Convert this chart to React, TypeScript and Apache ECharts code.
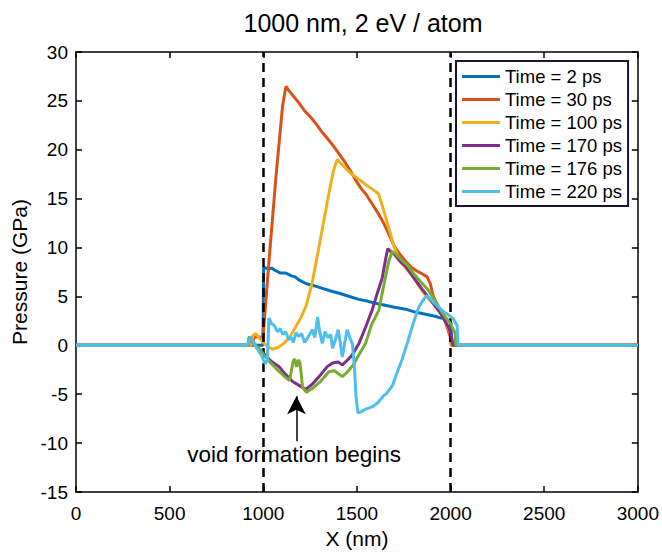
import React, { useEffect, useRef } from "react";
import * as echarts from "echarts";

const FONT = "'Liberation Sans', Arial, Helvetica, sans-serif";

const seriesNames = [
  "Time = 2 ps",
  "Time = 30 ps",
  "Time = 100 ps",
  "Time = 170 ps",
  "Time = 176 ps",
  "Time = 220 ps",
];
const seriesColors = ["#0072BD", "#D95319", "#EDB120", "#7E2F8E", "#77AC30", "#4DBEEE"];

const t2ps: [number, number][] = [
  [0, 0], [998, 0], [1002, 8.0], [1030, 7.8], [1045, 7.9], [1060, 7.7], [1090, 7.4], [1120, 7.4],
  [1150, 7.1], [1170, 7.0], [1190, 6.7], [1230, 6.3], [1270, 6.1], [1320, 5.8], [1370, 5.5],
  [1410, 5.3], [1460, 5.0], [1510, 4.7], [1560, 4.5], [1600, 4.3], [1650, 4.1],
  [1700, 3.9], [1760, 3.7], [1810, 3.4], [1860, 3.2], [1910, 3.0], [1950, 2.8],
  [1990, 2.5], [2002, 2.3], [2006, 0], [3000, 0],
];

const t30ps: [number, number][] = [
  [0, 0], [940, 0], [950, 0.8], [975, 0.9], [995, 0.6], [1000, 1.2], [1032, 9.0],
  [1067, 17.1], [1103, 24.5], [1121, 26.5], [1135, 26.1], [1160, 25.5], [1190, 24.8],
  [1220, 24.0], [1250, 23.4], [1280, 22.7], [1310, 21.9], [1340, 21.2], [1370, 20.5],
  [1400, 19.7], [1430, 18.9], [1460, 18.0], [1490, 17.0], [1520, 16.1], [1550, 15.4],
  [1580, 14.5], [1610, 13.6], [1640, 12.6], [1670, 11.4], [1700, 10.1], [1730, 9.3],
  [1760, 8.6], [1790, 8.0], [1820, 7.6], [1850, 7.3], [1875, 7.0], [1892, 6.3],
  [1905, 5.2], [1920, 4.5], [1945, 3.4], [1972, 2.4], [1998, 0.9], [2003, 0], [3000, 0],
];

const t100ps: [number, number][] = [
  [0, 0], [935, 0], [945, 1.0], [960, 1.2], [980, 0.7], [1000, 0.3], [1020, -0.1],
  [1050, -0.4], [1080, -0.2], [1110, 0.2], [1140, 0.8], [1170, 1.8], [1200, 2.8],
  [1230, 4.1], [1260, 6.3], [1290, 9.3], [1320, 12.4], [1350, 15.5], [1375, 17.9],
  [1395, 19.0], [1420, 18.5], [1450, 17.9], [1480, 17.4], [1510, 17.0], [1550, 16.4],
  [1580, 16.0], [1615, 15.5], [1640, 14.0], [1670, 12.0], [1700, 10.0], [1730, 8.6],
  [1760, 7.9], [1800, 7.0], [1850, 5.5], [1900, 4.4], [1940, 3.5], [1970, 2.5],
  [2000, 1.2], [2008, 0], [3000, 0],
];

const t170ps: [number, number][] = [
  [0, 0], [920, 0], [926, 0.9], [950, 0.2], [975, -0.3], [1000, -0.8], [1040, -1.6],
  [1085, -2.2], [1120, -3.0], [1156, -3.7], [1200, -4.2], [1227, -4.5], [1260, -4.0],
  [1298, -3.2], [1340, -2.2], [1369, -1.8], [1400, -1.7], [1422, -2.0], [1450, -1.5],
  [1475, -1.0], [1511, 0.2], [1545, 1.8], [1581, 3.6], [1610, 5.4], [1635, 6.9],
  [1655, 9.0], [1665, 9.9], [1680, 9.6], [1700, 9.3], [1730, 8.6], [1760, 8.1],
  [1800, 7.0], [1850, 5.7], [1900, 4.5], [1950, 3.2], [1990, 1.8], [2005, 1.0],
  [2012, 0], [3000, 0],
];

const t176ps: [number, number][] = [
  [0, 0], [920, 0], [926, 0.9], [950, 0.2], [975, -0.3], [1000, -0.9], [1040, -1.8],
  [1080, -2.6], [1120, -3.3], [1140, -3.6], [1160, -1.6], [1168, -1.4], [1178, -2.2],
  [1188, -1.5], [1196, -1.8], [1210, -4.3], [1230, -4.8], [1270, -4.3], [1310, -3.6],
  [1350, -2.7], [1380, -2.6], [1422, -3.2], [1450, -2.7], [1480, -2.0], [1510, -1.0],
  [1546, 0.2], [1580, 2.2], [1617, 3.6], [1645, 6.3], [1670, 8.6], [1688, 9.6],
  [1710, 9.3], [1740, 8.7], [1770, 8.2], [1800, 7.4], [1840, 6.5], [1883, 5.6],
  [1920, 4.5], [1950, 3.5], [1972, 2.9], [2000, 2.2], [2025, 1.2], [2027, 0], [3000, 0],
];

const t220ps: [number, number][] = [
  [0, 0], [915, 0], [925, 0.8], [945, 0.4], [965, -0.3], [990, -1.0], [1010, -1.9],
  [1022, -1.5], [1030, 2.8], [1045, 2.2], [1060, 2.0], [1075, 1.4], [1090, 1.7],
  [1105, 1.1], [1120, 1.4], [1135, 0.6], [1150, 0.8], [1160, 0.3], [1175, 1.3],
  [1190, 0.9], [1205, 1.2], [1220, 0.3], [1235, 0.7], [1250, 1.2], [1262, 1.6],
  [1275, 0.8], [1290, 2.9], [1300, 1.5], [1315, 0.2], [1330, 1.4], [1345, 0.8],
  [1360, 1.1], [1370, -0.3], [1385, 0.6], [1400, 1.6], [1410, 0.4], [1422, -1.2],
  [1435, 0.3], [1448, 1.6], [1460, 0.9], [1475, 0.2], [1485, -1.8], [1495, -5.2],
  [1505, -6.9], [1520, -6.8], [1550, -6.5], [1580, -6.3], [1610, -5.9], [1640, -5.2],
  [1660, -4.9], [1690, -4.1], [1710, -3.0], [1740, -1.5], [1770, 0.3], [1800, 2.2],
  [1830, 3.9], [1860, 4.8], [1875, 5.1], [1900, 4.6], [1930, 4.0], [1960, 3.5],
  [1990, 3.1], [2015, 2.7], [2035, 2.0], [2040, 0], [3000, 0],
];

const seriesData = [t2ps, t30ps, t100ps, t170ps, t176ps, t220ps];

const boundaryX = [1000, 2000];
const arrowFrom: [number, number] = [1177, -9.8];
const arrowTo: [number, number] = [1177, -5.2];
const noteText = "void formation begins";
const notePos: [number, number] = [1165, -11.2];

const X_MIN = 0, X_MAX = 3000, X_STEP = 500;
const Y_MIN = -15, Y_MAX = 30, Y_STEP = 5;

export default function App() {
  const ref = useRef<HTMLDivElement>(null);

  useEffect(() => {
    if (!ref.current) return;
    const chart = echarts.init(ref.current, undefined, { renderer: "svg" });

    const axisLine = { show: true, onZero: false, lineStyle: { color: "#000", width: 1.5 } };
    const axisTick = { show: true, inside: true, length: 6, lineStyle: { color: "#000", width: 1.5 } };
    const labelStyle = {
      color: "#000",
      fontSize: 19,
      fontFamily: FONT,
      formatter: (v: number) => String(v),
    };

    const lineSeries = seriesNames.map((name, i) => ({
      name,
      type: "line",
      data: seriesData[i],
      symbol: "none",
      showSymbol: false,
      lineStyle: { color: seriesColors[i], width: 3 },
      itemStyle: { color: seriesColors[i] },
      z: 2 + i,
    }));

    chart.setOption({
      animation: false,
      title: {
        text: "1000 nm, 2 eV / atom",
        left: 358,
        top: 5,
        textAlign: "center",
        textStyle: { fontSize: 25, fontWeight: "normal", color: "#000", fontFamily: FONT },
      },
      legend: {
        data: seriesNames.map((n) => ({ name: n, icon: "rect" })),
        orient: "vertical",
        left: 456,
        top: 61,
        itemWidth: 38,
        itemHeight: 3,
        itemGap: 4,
        padding: [6, 6, 5, 6],
        backgroundColor: "#fff",
        borderColor: "#15153a",
        borderWidth: 2,
        textStyle: { fontSize: 18.5, color: "#000", fontFamily: FONT },
        selectedMode: false,
      },
      grid: { left: 76, right: 22, top: 52, bottom: 50, containLabel: false },
      xAxis: [
        {
          type: "value",
          min: X_MIN,
          max: X_MAX,
          interval: X_STEP,
          position: "bottom",
          name: "X (nm)",
          nameLocation: "middle",
          nameGap: 36,
          nameTextStyle: { fontSize: 21, color: "#000", fontFamily: FONT },
          axisLine,
          axisTick,
          axisLabel: { ...labelStyle, margin: 12 },
          splitLine: { show: false },
        },
        {
          type: "value",
          min: X_MIN,
          max: X_MAX,
          interval: X_STEP,
          position: "top",
          axisLine,
          axisTick,
          axisLabel: { show: false },
          splitLine: { show: false },
        },
      ],
      yAxis: [
        {
          type: "value",
          min: Y_MIN,
          max: Y_MAX,
          interval: Y_STEP,
          position: "left",
          name: "Pressure (GPa)",
          nameLocation: "middle",
          nameGap: 43,
          nameRotate: 90,
          nameTextStyle: { fontSize: 21, color: "#000", fontFamily: FONT },
          axisLine,
          axisTick,
          axisLabel: { ...labelStyle, margin: 8 },
          splitLine: { show: false },
        },
        {
          type: "value",
          min: Y_MIN,
          max: Y_MAX,
          interval: Y_STEP,
          position: "right",
          axisLine,
          axisTick,
          axisLabel: { show: false },
          splitLine: { show: false },
        },
      ],
      series: [
        ...lineSeries,
        {
          name: "boundaries",
          type: "line",
          data: [],
          z: 20,
          markLine: {
            silent: true,
            symbol: ["none", "none"],
            label: { show: false },
            lineStyle: { color: "#000", type: [9, 6], width: 2.5 },
            data: boundaryX.map((x) => ({ xAxis: x })),
          },
        },
        {
          name: "arrow",
          type: "line",
          data: [],
          z: 20,
          markLine: {
            silent: true,
            symbol: ["none", "arrow"],
            symbolSize: [14, 18],
            label: { show: false },
            lineStyle: { color: "#000", type: "solid", width: 1.5 },
            data: [[{ coord: arrowFrom }, { coord: arrowTo }]],
          },
        },
        {
          name: "note",
          type: "scatter",
          data: [notePos],
          symbolSize: 0,
          silent: true,
          z: 20,
          itemStyle: { opacity: 1 },
          label: {
            show: true,
            position: "inside",
            formatter: noteText,
            fontSize: 22.5,
            color: "#000",
            opacity: 1,
            fontFamily: FONT,
          },
        },
      ],
    });

    return () => chart.dispose();
  }, []);

  return (
    <div
      ref={ref}
      style={{ position: "fixed", left: 0, top: 0, width: 662, height: 554, background: "#fff" }}
    />
  );
}
